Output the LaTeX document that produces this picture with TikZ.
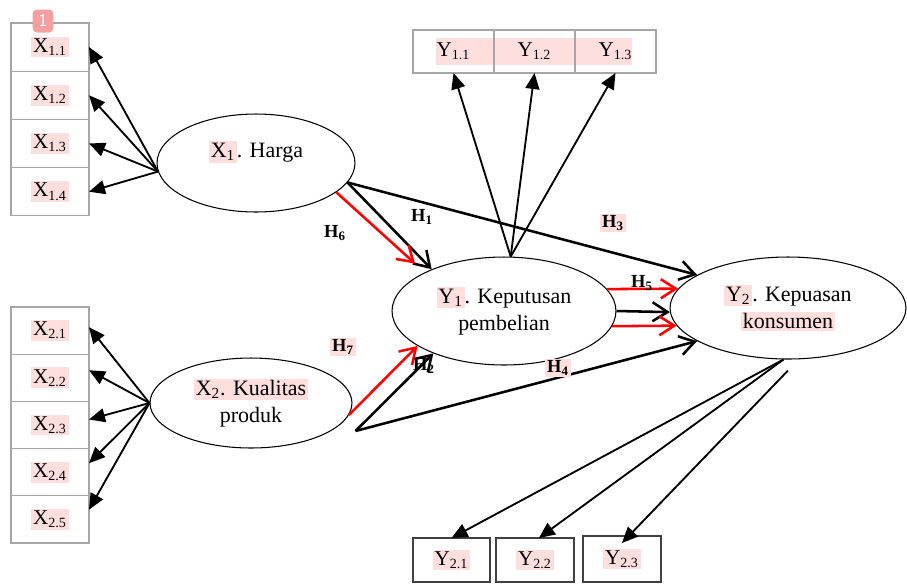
\documentclass[tikz,border=0pt]{standalone}
\usepackage{fontspec}
\setmainfont{Liberation Serif}
\usepackage{tikz}
\usetikzlibrary{arrows.meta,positioning,calc,shapes.geometric}
\definecolor{hlpink}{RGB}{255,222,222}
\definecolor{badgepink}{RGB}{245,160,160}
\newcommand{\hlt}[1]{{\setlength{\fboxsep}{1pt}\colorbox{hlpink}{#1}}}

\begin{document}
\begin{tikzpicture}[x=0.02cm, y=-0.02cm,
    latent/.style={ellipse, draw, line width=0.6pt, inner sep=0pt, align=center, font=\fontsize{12.5}{15.5}\selectfont},
    lbl/.style={inner sep=0pt, font=\fontsize{12.5}{15.5}\selectfont},
    xcell/.style={rectangle, draw=black!35, line width=0.7pt, minimum width=1.56cm, minimum height=0.965cm, outer sep=0pt, inner sep=0pt, font=\fontsize{12}{14}\selectfont},
    ycell/.style={xcell, minimum width=1.62cm, minimum height=0.86cm},
    zcell/.style={xcell, draw=black!75, line width=0.9pt, minimum width=1.55cm, minimum height=0.88cm},
    hyp/.style={inner sep=0pt, font=\bfseries\fontsize{10.5}{12}\selectfont},
    ind/.style={line width=1.05pt, -{Triangle[length=3.2mm,width=2.8mm]}},
    path/.style={line width=1.45pt, -{Straight Barb[length=3mm,width=3.8mm]}},
    badge/.style={rectangle, rounded corners=2.5pt, fill=badgepink, text=white, minimum width=0.42cm, minimum height=0.46cm, inner sep=0pt, font=\sffamily\fontsize{10}{11}\selectfont}]
    \useasboundingbox (0,0) rectangle (907,583);

    \node[xcell] (c11) at (50,47) {\hlt{X\textsubscript{1.1}}};
    \node[xcell, below=0pt of c11] (c12) {\hlt{X\textsubscript{1.2}}};
    \node[xcell, below=0pt of c12] (c13) {\hlt{X\textsubscript{1.3}}};
    \node[xcell, below=0pt of c13] (c14) {\hlt{X\textsubscript{1.4}}};

    \node[xcell, minimum height=0.944cm] (c21) at (50,330.6) {\hlt{X\textsubscript{2.1}}};
    \node[xcell, minimum height=0.944cm, below=0pt of c21] (c22) {\hlt{X\textsubscript{2.2}}};
    \node[xcell, minimum height=0.944cm, below=0pt of c22] (c23) {\hlt{X\textsubscript{2.3}}};
    \node[xcell, minimum height=0.944cm, below=0pt of c23] (c24) {\hlt{X\textsubscript{2.4}}};
    \node[xcell, minimum height=0.944cm, below=0pt of c24] (c25) {\hlt{X\textsubscript{2.5}}};

    \fill[hlpink] (436,38) rectangle (632,65);
    \node[ycell] (y11) at (453.5,51.5) {Y\textsubscript{1.1}};
    \node[ycell, right=0pt of y11] (y12) {Y\textsubscript{1.2}};
    \node[ycell, right=0pt of y12] (y13) {Y\textsubscript{1.3}};

    \node[zcell] (b21) at (451.5,560) {\hlt{Y\textsubscript{2.1}}};
    \node[zcell] (b22) at (535,560) {\hlt{Y\textsubscript{2.2}}};
    \node[zcell, minimum height=0.92cm] (b23) at (622,559) {\raisebox{3pt}{\hlt{Y\textsubscript{2.3}}}};

    \node[badge] (badge) at (43,21) {1};

    \node[latent, minimum width=3.96cm, minimum height=1.96cm] (x1) at (256,163) {};
    \node[lbl] (x1txt) at (256,152) {\hlt{X\textsubscript{1}}. Harga};
    \node[latent, minimum width=4.04cm, minimum height=1.80cm] (x2) at (251,403) {\hlt{X\textsubscript{2}. Kualitas}\\produk};
    \node[latent, minimum width=4.48cm, minimum height=2.16cm] (y1) at (504,311) {\hlt{Y\textsubscript{1}}. Keputusan\\pembelian};
    \node[latent, minimum width=4.72cm, minimum height=2.04cm] (y2) at (788,308) {\hlt{Y\textsubscript{2}}. Kepuasan\\\hlt{konsumen}};

    \coordinate (x2out) at ($(x2.east)+(3,28)$);
    \coordinate (y2tail) at ($(y2.south)+(0,11)$);

    \foreach \i in {1,...,4}
        \draw[ind] (x1.185) -- (c1\i.east);
    \foreach \i/\a in {1/5,2/11,3/8,4/13,5/14}
        \draw[ind] (x2.west) -- (c2\i.\a);
    \foreach \i in {1,2,3}
        \draw[ind] (y1.83) -- (y1\i.south);
    \draw[ind] (y2.265) -- (b21.north);
    \draw[ind] (y2.265) -- (b22.80);
    \draw[ind] (y2tail) -- ($(b23.north)+(0,7)$);

    \draw[path] (x1.-12) -- (y1.150);
    \draw[path, red] (x1.-20) -- (y1.154) [shorten >=0.26cm];
    \draw[path] (x1.-12) -- (y2.160);
    \draw[path, red] (y1.12) -- (y2.170);
    \draw[path] (y1.east) -- (y2.182);
    \draw[path, red] (y1.-8) -- (y2.189);
    \draw[path] (x2out) -- (y2.200);
    \draw[path] (x2out) -- (y1.211);
    \draw[path, red] (x2.-7) -- (y1.202);

    \node[hyp] (h1) at (422,217) {H\textsubscript{1}};
    \node[hyp] (h2) at (424,366) {H\textsubscript{2}};
    \node[hyp] (h3) at (613,223) {\hlt{H\textsubscript{3}}};
    \node[hyp] (h4) at (558,368) {\hlt{H\textsubscript{4}}};
    \node[hyp] (h5) at (642,283) {H\textsubscript{5}};
    \node[hyp] (h6) at (335,233) {H\textsubscript{6}};
    \node[hyp] (h7) at (343,347) {\hlt{H\textsubscript{7}}};
\end{tikzpicture}
\end{document}
